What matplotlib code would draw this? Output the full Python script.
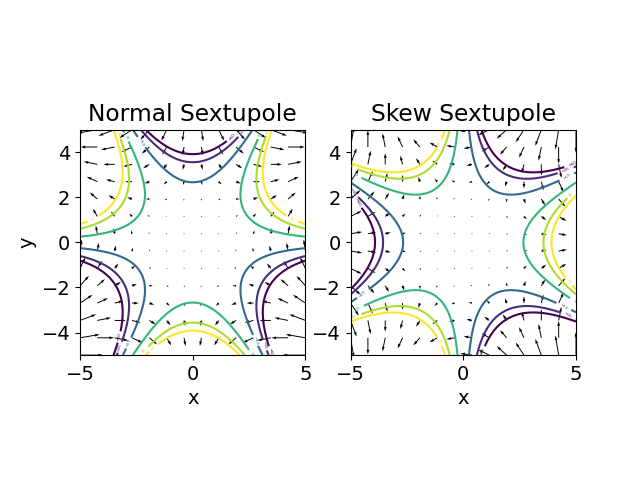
import numpy as np
from matplotlib import pyplot as plt

plt.rcParams['font.size'] = 14

lim = 5
levels = [-60, -45, -19, 19, 45, 60]
n_fine = 200
n_quiv = 14

x = np.linspace(-lim, lim, n_fine)
X, Y = np.meshgrid(x, x)
xq = np.linspace(-lim, lim, n_quiv)
XQ, YQ = np.meshgrid(xq, xq)

fig, axes = plt.subplots(1, 2)

# normal sextupole
ax = axes[0]
A = 3*X**2*Y - Y**3
cs = ax.contour(X, Y, A, levels=levels)
ax.clabel(cs, fontsize=3)
ax.quiver(XQ, YQ, 2*XQ*YQ, XQ**2 - YQ**2)
ax.set_title("Normal Sextupole")
ax.set_xlabel("x")
ax.set_ylabel("y")

# skew sextupole
ax = axes[1]
A = X**3 - 3*X*Y**2
cs = ax.contour(X, Y, A, levels=levels)
ax.clabel(cs, fontsize=3)
ax.quiver(XQ, YQ, XQ**2 - YQ**2, -2*XQ*YQ)
ax.set_title("Skew Sextupole")
ax.set_xlabel("x")

for ax in axes:
    ax.set_xlim(-lim, lim)
    ax.set_ylim(-lim, lim)
    ax.set_aspect('equal')

plt.subplots_adjust(left=0.125, right=0.9, wspace=0.2)
plt.savefig("out.png")
